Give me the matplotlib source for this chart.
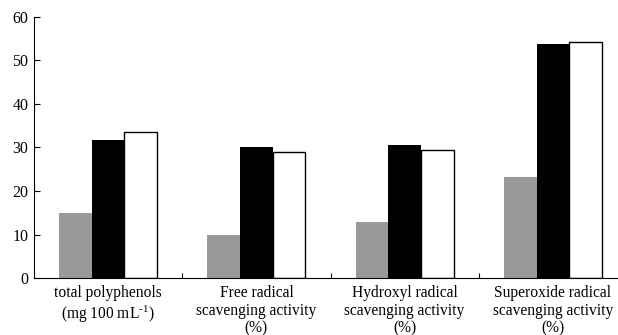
import matplotlib.pyplot as plt
import numpy as np

plt.rcParams['font.family'] = ['Liberation Serif', 'DejaVu Serif']
plt.rcParams['mathtext.default'] = 'regular'

# Data
categories = ['total polyphenols\n(mg 100 mL$^{\u20101}$)',
              'Free radical\nscavenging activity\n(%)',
              'Hydroxyl radical\nscavenging activity\n(%)',
              'Superoxide radical\nscavenging activity\n(%)']
gray_vals = [15.0, 10.0, 12.8, 23.3]
black_vals = [31.6, 30.1, 30.6, 53.8]
white_vals = [33.5, 29.0, 29.5, 54.1]

fig = plt.figure(figsize=(6.18, 3.35), dpi=100)
ax = fig.add_axes([34 / 618, 56.7 / 335, 593 / 618, 261.7 / 335])

x = np.arange(len(categories))
w = 0.22
ax.bar(x - w, gray_vals, w, color='#999999', linewidth=0)
ax.bar(x, black_vals, w, color='black', linewidth=0)
ax.bar(x + w, white_vals, w, color='white', edgecolor='black', linewidth=1.0)

ax.set_xlim(-0.5, 3.5)
ax.set_ylim(0, 60)
ax.set_yticks(range(0, 61, 10))

ax.set_xticks(x)
ax.set_xticklabels(categories, fontsize=11.2, linespacing=1.15)
ax.set_xticks([0.5, 1.5, 2.5], minor=True)
ax.tick_params(axis='x', which='major', length=0, pad=5)
ax.tick_params(axis='x', which='minor', direction='in', length=3.5, width=0.8)
ax.tick_params(axis='y', direction='in', length=4.5, width=0.8, labelsize=11.5, pad=4)

for s in ['top', 'right']:
    ax.spines[s].set_visible(False)
for s in ['left', 'bottom']:
    ax.spines[s].set_linewidth(0.8)

fig.savefig('out.png', dpi=100)
